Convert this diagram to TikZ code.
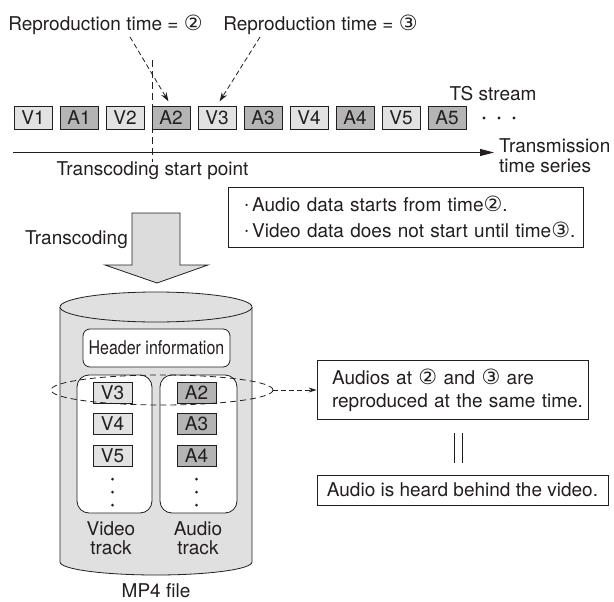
\documentclass[tikz,border=0pt]{standalone}
\usepackage{fontspec}
\setmainfont{TeX Gyre Heros}
\newfontfamily\symfont{DejaVu Sans}
\newfontfamily\narrowfont[FakeStretch=0.84]{TeX Gyre Heros}
\usetikzlibrary{arrows.meta,shapes.geometric,calc}
\newcommand{\cnum}[1]{{\symfont\fontsize{21}{21}\selectfont #1}}
\newcommand{\bul}{\raisebox{0.18em}{\fontsize{9}{9}\selectfont\textbullet}\hspace{4pt}}
\definecolor{ink}{HTML}{231F20}
\definecolor{vfill}{HTML}{E2E2E2}
\definecolor{afill}{HTML}{B4B4B4}
\definecolor{cylfill}{HTML}{E0E0E0}
\definecolor{arrfill}{HTML}{DCDCDC}
\begin{document}
\begin{tikzpicture}[x=1pt,y=-1pt,
  font=\fontsize{19}{22}\selectfont,
  every node/.style={text=ink},
  txt/.style={inner sep=0pt},
  pkt/.style={draw=ink, line width=0.8pt, minimum width=38pt, minimum height=23pt, inner sep=0pt},
  vpk/.style={pkt, fill=vfill},
  apk/.style={pkt, fill=afill},
  ipk/.style={minimum width=39pt, minimum height=21pt},
  darr/.style={draw=ink, line width=0.8pt, dash pattern=on 5pt off 3pt, -{Stealth[length=9pt,width=6pt]}, shorten >=5pt},
  trk/.style={draw=ink, line width=0.8pt, fill=white, rounded corners=12pt, minimum height=138pt, inner sep=0pt},
  plainbox/.style={draw=ink, line width=0.8pt, inner sep=0pt}
]
\useasboundingbox (0,0) rectangle (614,602);
\fill[white] (0,0) rectangle (614,602);

% top labels
\node[txt] (lab1) at (105.5,25) {Reproduction time = \cnum{②}};
\node[txt] (lab2) at (320.5,25) {Reproduction time = \cnum{③}};
\node[txt] (tss) at (493,94) {TS stream};

% packet row
\node[vpk] (V1) at (33,117.5) {V1};
\node[apk] (A1) at (79,117.5) {A1};
\node[vpk] (V2) at (125,117.5) {V2};
\node[apk] (A2) at (171,117.5) {A2};
\node[vpk] (V3) at (217,117.5) {V3};
\node[apk] (A3) at (263,117.5) {A3};
\node[vpk] (V4) at (309,117.5) {V4};
\node[apk] (A4) at (355,117.5) {A4};
\node[vpk] (V5) at (401,117.5) {V5};
\node[apk] (A5) at (447,117.5) {A5};
\foreach \x in {484,499,514} \fill[ink] (\x,118) circle[radius=1.6pt];

% dashed arrows from labels
\coordinate (s1) at (130,37);
\coordinate (s2) at (260,37);
\draw[darr] (s1) -- (A2.north);
\draw[darr] (s2) -- (V3.north);

% transcoding start point
\node[txt] (tsp) at (152.5,171) {Transcoding start point};
\coordinate (cut) at (152,60);
\draw[ink, line width=0.9pt, dash pattern=on 7pt off 4pt] (cut) -- (cut |- tsp.north);

% time axis
\coordinate (ax0) at (13,152.5);
\coordinate (ax1) at (494,152.5);
\draw[ink, line width=1pt, -{Triangle[length=14pt,width=7pt]}] (ax0) -- (ax1);
\node[txt, anchor=west, align=left, font=\fontsize{19}{20}\selectfont] (tts) at (499,156) {Transmission\\time series};

% info box
\node[plainbox, minimum width=355pt, minimum height=60pt, text width=321pt, inner xsep=17pt, align=left, font=\fontsize{19}{26}\selectfont] (info) at (405.5,217)
  {\mbox{\bul Audio data starts from time\cnum{②}.}\\\mbox{\bul Video data does not start until time\cnum{③}.}};

% transcoding arrow
\node[txt, anchor=east] (trc) at (128,240) {Transcoding};
\filldraw[fill=arrfill, draw=ink, line width=0.8pt] (132,213) -- (180,213) -- (180,265) -- (208,265) -- (157,283) -- (105,265) -- (132,265) -- cycle;

% cylinder
\filldraw[fill=cylfill, draw=ink, line width=0.8pt] (60,307) -- (60,562) arc[start angle=180, end angle=360, x radius=96pt, y radius=13pt] -- (252,307);
\filldraw[fill=cylfill, draw=ink, line width=0.8pt] (156,307) ellipse[x radius=96pt, y radius=15pt];

\node[draw=ink, line width=0.8pt, fill=white, rounded corners=7pt, minimum width=147pt, minimum height=38pt, inner sep=0pt] (hdr) at (156.5,348) {\narrowfont Header information};

\node[trk, minimum width=75pt] (vtr) at (114.5,444) {};
\node[trk, minimum width=77pt] (atr) at (198.5,444) {};

\node[vpk, ipk] (mV3) at (112.5,393) {V3};
\node[vpk, ipk] (mV4) at (112.5,424) {V4};
\node[vpk, ipk] (mV5) at (112.5,456) {V5};
\node[apk, ipk] (mA2) at (196.5,393) {A2};
\node[apk, ipk] (mA3) at (196.5,424) {A3};
\node[apk, ipk] (mA4) at (196.5,456) {A4};
\foreach \y in {479,492,505} {
  \fill[ink] (112.5,\y) circle[radius=1.5pt];
  \fill[ink] (196.5,\y) circle[radius=1.5pt];
}
\node[txt, align=center, font=\fontsize{19}{19.5}\selectfont] (vlab) at (111,538) {Video\\track};
\node[txt, align=center, font=\fontsize{19}{19.5}\selectfont] (alab) at (198,538) {Audio\\track};
\node[txt] (mp4) at (156,591) {MP4 file};

% selection ellipse
\node[draw=ink, line width=0.8pt, dash pattern=on 6pt off 4pt, ellipse, minimum width=222pt, minimum height=30pt, inner sep=0pt] (sel) at (162,390) {};

% right boxes
\node[plainbox, minimum width=271pt, minimum height=59pt, text width=241pt, inner xsep=15pt, align=left, font=\fontsize{19}{23}\selectfont] (aud) at (452.5,390)
  {\mbox{Audios at \cnum{②} and \cnum{③} are}\\\mbox{reproduced at the same time.}};
\draw[ink, line width=0.8pt, dash pattern=on 5pt off 3pt, -{Stealth[length=8pt,width=5pt]}] (sel.east) -- (aud.west);

\draw[ink, line width=0.8pt] (454,433) -- (454,463);
\draw[ink, line width=0.8pt] (462,433) -- (462,463);

\node[plainbox, minimum width=291pt, minimum height=30pt] (hear) at (462.5,490) {Audio is heard behind the video.};
\end{tikzpicture}
\end{document}
